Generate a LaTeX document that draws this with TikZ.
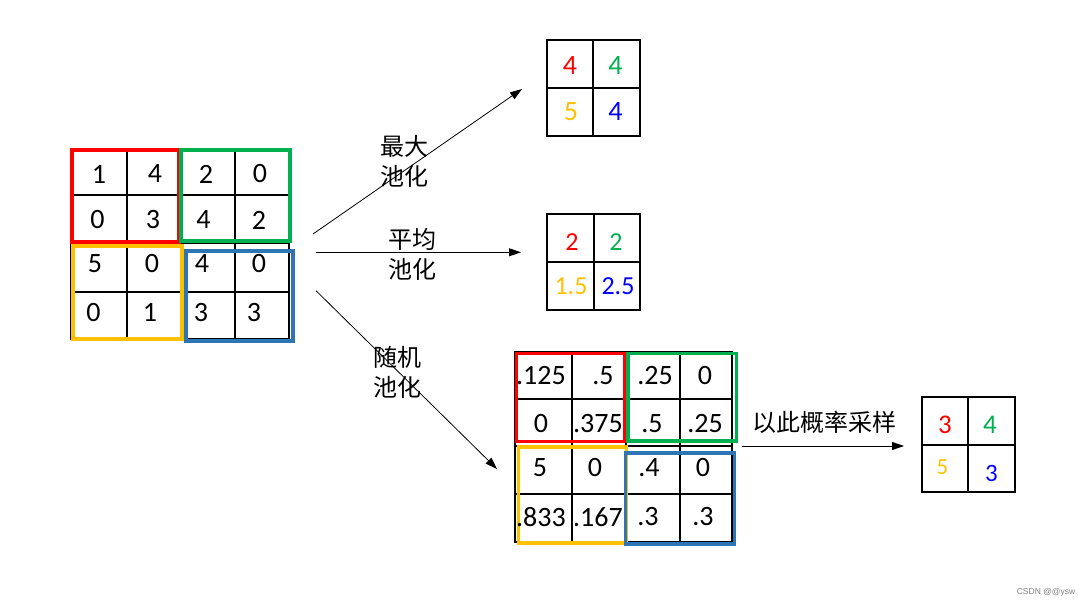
\documentclass[tikz,border=0pt]{standalone}
\usepackage{fontspec}
\setmainfont{Carlito}
\newfontfamily\cjk{Noto Sans CJK SC}
\newfontfamily\wmfont{Liberation Sans}
\usetikzlibrary{arrows.meta}
\definecolor{cred}{HTML}{FF0000}
\definecolor{cgreen}{HTML}{00B050}
\definecolor{cyellow}{HTML}{FFC000}
\definecolor{cbluebox}{HTML}{2E75B6}
\definecolor{cbluetxt}{HTML}{0000FF}
\tikzset{
  gridline/.style={line width=2pt, black},
  hlbox/.style={line width=3.4pt},
  num/.style={inner sep=0pt, font=\fontsize{28}{30}\selectfont},
  numsm/.style={inner sep=0pt, font=\fontsize{26}{28}\selectfont},
  cjklabel/.style={inner sep=0pt, align=center, font=\cjk\fontsize{24}{30}\selectfont},
  arr/.style={line width=0.8pt, -{Triangle[length=12pt,width=8pt]}},
}
\begin{document}
\begin{tikzpicture}[x=1pt,y=-1pt]
\fill[white] (0,0) rectangle (1091,607);
\useasboundingbox (0,0) rectangle (1091,607);

% ---------- left input grid ----------
\draw[gridline] (71,149) rectangle (289,339);
\foreach \x in {126.5,181,235} \draw[gridline] (\x,149) -- (\x,339);
\foreach \y in {195,243,292} \draw[gridline] (71,\y) -- (289,\y);
\draw[hlbox, cred] (72,150) rectangle (179,242);
\draw[hlbox, cgreen] (181,150) rectangle (290,241);
\draw[hlbox, cyellow] (73,246) rectangle (182,339);
\draw[hlbox, cbluebox] (186,251) rectangle (293,341);

\node[num] (a11) at (99,174) {1};
\node[num] (a12) at (155,174) {4};
\node[num] (a13) at (206,174) {2};
\node[num] (a14) at (260,174) {0};
\node[num] (a21) at (97.5,220) {0};
\node[num] (a22) at (153,220) {3};
\node[num] (a23) at (203.5,220) {4};
\node[num] (a24) at (259,220) {2};
\node[num] (a31) at (95,264) {5};
\node[num] (a32) at (152,264) {0};
\node[num] (a33) at (202,264) {4};
\node[num] (a34) at (259,264) {0};
\node[num] (a41) at (93.5,312.5) {0};
\node[num] (a42) at (150,312.5) {1};
\node[num] (a43) at (201,312.5) {3};
\node[num] (a44) at (254,312.5) {3};

% ---------- max pooling result ----------
\draw[gridline] (546.5,40) rectangle (640,136);
\draw[gridline] (593.3,40) -- (593.3,136);
\draw[gridline] (546.5,88.3) -- (640,88.3);
\node[num, text=cred] (m11) at (570,66) {4};
\node[num, text=cgreen] (m12) at (615.5,66) {4};
\node[num, text=cyellow] (m21) at (571,112) {5};
\node[num, text=cbluetxt] (m22) at (615.5,112) {4};

% ---------- average pooling result ----------
\draw[gridline] (546.5,214.3) rectangle (640,310);
\draw[gridline] (594,214.3) -- (594,310);
\draw[gridline] (546.5,262.3) -- (640,262.3);
\node[numsm, text=cred] (v11) at (572,242) {2};
\node[numsm, text=cgreen] (v12) at (616,242) {2};
\node[numsm, text=cyellow] (v21) at (571,286.5) {1.5};
\node[numsm, text=cbluetxt] (v22) at (618,286.5) {2.5};

% ---------- probability grid ----------
\draw[gridline] (515,352) rectangle (731.7,541.7);
\foreach \x in {571.7,626,680} \draw[gridline] (\x,352) -- (\x,541.7);
\foreach \y in {399,446,494} \draw[gridline] (515,\y) -- (731.7,\y);
\draw[hlbox, cred] (516.5,353.5) rectangle (625,441.7);
\draw[hlbox, cgreen] (628,353.5) rectangle (736.5,441);
\draw[hlbox, cyellow] (518.5,447) rectangle (626.5,543);
\draw[hlbox, cbluebox] (625.5,453) rectangle (734.5,544);

\node[num] (p11) at (541,376) {.125};
\node[num] (p12) at (603,376) {.5};
\node[num] (p13) at (655,376) {.25};
\node[num] (p14) at (705,376) {0};
\node[num] (p21) at (541,424) {0};
\node[num] (p22) at (598,424) {.375};
\node[num] (p23) at (652,424) {.5};
\node[num] (p24) at (705,424) {.25};
\node[num] (p31) at (540,468) {5};
\node[num] (p32) at (595,468) {0};
\node[num] (p33) at (649,468) {.4};
\node[num] (p34) at (703,468) {0};
\node[num] (p41) at (541,517) {.833};
\node[num] (p42) at (598,517) {.167};
\node[num] (p43) at (648,517) {.3};
\node[num] (p44) at (703,517) {.3};

% ---------- sampled result ----------
\draw[gridline] (921.7,397.3) rectangle (1015,491.7);
\draw[gridline] (968.3,397.3) -- (968.3,491.7);
\draw[gridline] (921.7,445) -- (1015,445);
\node[inner sep=0pt, font=\fontsize{27}{29}\selectfont, text=cred] (s11) at (945,424.5) {3};
\node[inner sep=0pt, font=\fontsize{27}{29}\selectfont, text=cgreen] (s12) at (990,424.5) {4};
\node[inner sep=0pt, font=\fontsize{23}{25}\selectfont, text=cyellow] (s21) at (942.5,467.5) {5};
\node[inner sep=0pt, font=\fontsize{25}{27}\selectfont, text=cbluetxt] (s22) at (991.5,473.5) {3};

% ---------- arrows ----------
\coordinate (maxS) at (313,234);
\coordinate (maxE) at (522,89);
\coordinate (avgS) at (316,252.3);
\coordinate (avgE) at (521,252.3);
\coordinate (rndS) at (316,290.7);
\coordinate (rndE) at (497,469);
\coordinate (smpS) at (742,446);
\coordinate (smpE) at (904,446);
\draw[arr] (maxS) -- (maxE);
\draw[arr] (avgS) -- (avgE);
\draw[arr] (rndS) -- (rndE);
\draw[arr] (smpS) -- (smpE);

% ---------- labels ----------
\node[cjklabel] (lmax) at (404,161.5) {最大\\池化};
\node[cjklabel] (lavg) at (412,254.5) {平均\\池化};
\node[cjklabel] (lrnd) at (397.5,372) {随机\\池化};
\node[cjklabel] (lsmp) at (824,422) {以此概率采样};

\node[inner sep=0pt, text=gray, font=\wmfont\fontsize{8.5}{9}\selectfont] (wm) at (1046,592) {CSDN @@ysw};
\end{tikzpicture}
\end{document}
